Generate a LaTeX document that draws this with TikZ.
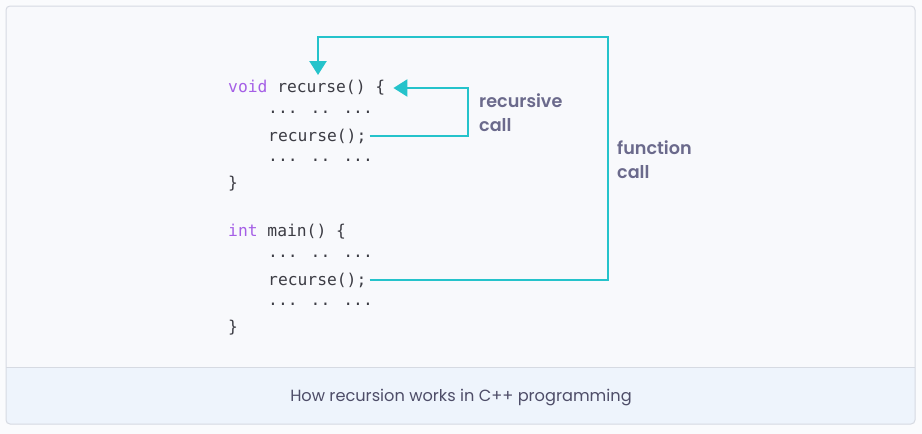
\documentclass[tikz,border=0pt]{standalone}
\usepackage{fontspec}
\setmainfont{Poppins}
\newfontfamily\codefont{DejaVu Sans Mono}
\newfontfamily\labelfont{Poppins}[UprightFont=* SemiBold]
\usetikzlibrary{arrows.meta}
\definecolor{pagebg}{HTML}{FAFBFD}
\definecolor{boxbg}{HTML}{F8F9FC}
\definecolor{capbg}{HTML}{EEF4FC}
\definecolor{boxline}{HTML}{D6DAE2}
\definecolor{teal}{HTML}{25C3CB}
\definecolor{kw}{HTML}{A55FE6}
\definecolor{codetxt}{HTML}{3C3C44}
\definecolor{lbl}{HTML}{6B6A8C}
\definecolor{captxt}{HTML}{4E4D68}
\tikzset{
  code/.style={anchor=west, inner sep=0pt, font=\codefont\fontsize{16.3}{18}\selectfont, text=codetxt},
  lab/.style={anchor=north west, inner sep=0pt, align=left, font=\labelfont\fontsize{17.6}{24}\selectfont, text=lbl},
  conn/.style={draw=teal, line width=2.4pt, -{Triangle[length=14pt,width=17pt]}}
}
\begin{document}
\begin{tikzpicture}[x=1pt,y=-1pt]
\useasboundingbox (0,0) rectangle (922,434);
\fill[pagebg] (0,0) rectangle (922,434);
\fill[boxbg, rounded corners=4pt] (6,6) rectangle (915,424);
\begin{scope}
\clip (6,367) rectangle (915,424);
\fill[capbg, rounded corners=4pt] (6,300) rectangle (915,424);
\end{scope}
\draw[boxline, line width=1pt, rounded corners=4pt] (6,6) rectangle (915,424);
\draw[boxline, line width=1pt] (6,367) -- (915,367);

\node[code] (l1) at (228,88) {\textcolor{kw}{void} recurse() \{};
\node[code] (l2) at (268,112) {... .. ...};
\node[code] (l3) at (268,136) {recurse();};
\node[code] (l4) at (268,160) {... .. ...};
\node[code] (l5) at (228,184) {\}};
\node[code] (l6) at (228,232) {\textcolor{kw}{int} main() \{};
\node[code] (l7) at (268,256) {... .. ...};
\node[code] (l8) at (268,280) {recurse();};
\node[code] (l9) at (268,304) {... .. ...};
\node[code] (l10) at (228,328) {\}};

\node[lab] (rc) at (479,93) {recursive\\call};
\node[lab] (fc) at (617,140) {function\\call};

\coordinate (top) at (318,75);
\draw[conn] ([xshift=3pt]l3.east) -- (468,136) -- (468,88) -- ([xshift=8pt]l1.east);
\draw[conn] ([xshift=3pt]l8.east) -- (608,280) -- (608,37) -- (318,37) -- (top);

\node[inner sep=0pt, font=\fontsize{16.2}{20}\selectfont, text=captxt] (cap) at (461,397.5) {How recursion works in C++ programming};
\end{tikzpicture}
\end{document}
